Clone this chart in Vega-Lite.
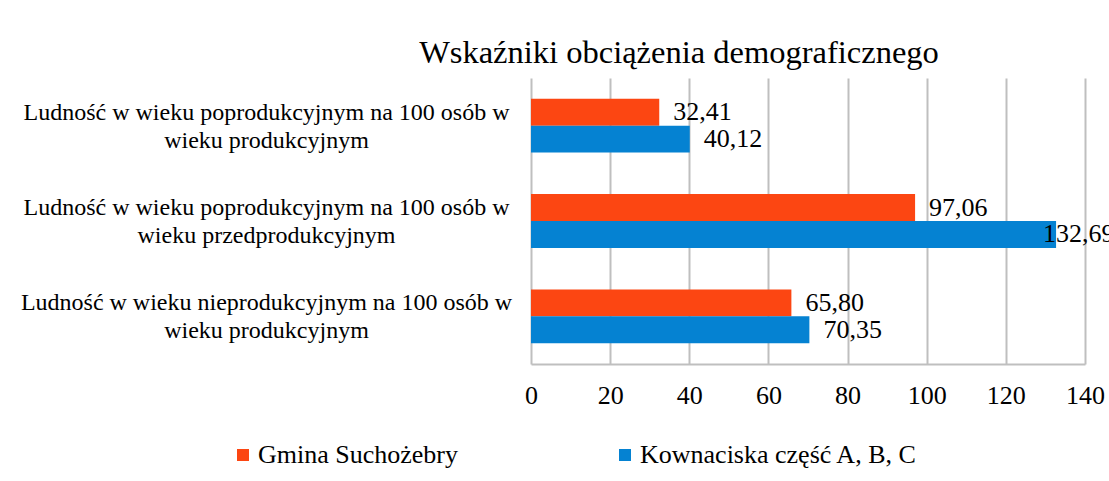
{
  "$schema": "https://vega.github.io/schema/vega-lite/v6.json",
  "autosize": {"type": "none"},
  "padding": {"left": 531, "top": 78, "right": 24, "bottom": 117},
  "width": 554,
  "height": 286,
  "background": "white",
  "title": {
    "text": "Wskaźniki obciążenia demograficznego",
    "font": "Liberation Serif",
    "fontSize": 32.5,
    "fontWeight": "normal",
    "color": "black",
    "anchor": "middle",
    "baseline": "alphabetic",
    "offset": -17,
    "dx": -129
  },
  "data": {
    "values": [
      {"kategoria": "Ludność w wieku poprodukcyjnym na 100 osób w wieku produkcyjnym", "seria": "Gmina Suchożebry", "wartosc": 32.41},
      {"kategoria": "Ludność w wieku poprodukcyjnym na 100 osób w wieku produkcyjnym", "seria": "Kownaciska część A, B, C", "wartosc": 40.12},
      {"kategoria": "Ludność w wieku poprodukcyjnym na 100 osób w wieku przedprodukcyjnym", "seria": "Gmina Suchożebry", "wartosc": 97.06},
      {"kategoria": "Ludność w wieku poprodukcyjnym na 100 osób w wieku przedprodukcyjnym", "seria": "Kownaciska część A, B, C", "wartosc": 132.69},
      {"kategoria": "Ludność w wieku nieprodukcyjnym na 100 osób w wieku produkcyjnym", "seria": "Gmina Suchożebry", "wartosc": 65.80},
      {"kategoria": "Ludność w wieku nieprodukcyjnym na 100 osób w wieku produkcyjnym", "seria": "Kownaciska część A, B, C", "wartosc": 70.35}
    ]
  },
  "encoding": {
    "y": {
      "field": "kategoria",
      "type": "nominal",
      "sort": null,
      "scale": {"paddingInner": 0.435, "paddingOuter": 0.2175},
      "axis": {
        "title": null,
        "domain": false,
        "ticks": false,
        "grid": false,
        "labelAlign": "center",
        "labelBaseline": "middle",
        "labelPadding": 265,
        "labelOffset": -13,
        "labelLimit": 0,
        "labelFont": "Liberation Serif",
        "labelFontSize": 24,
        "labelColor": "black",
        "labelLineHeight": 28,
        "labelExpr": "[slice(datum.label, 0, indexof(datum.label, ' osób w') + 7), slice(datum.label, indexof(datum.label, ' osób w') + 8)]"
      }
    },
    "yOffset": {
      "field": "seria",
      "type": "nominal",
      "sort": ["Gmina Suchożebry", "Kownaciska część A, B, C"],
      "scale": {"paddingInner": 0, "paddingOuter": 0}
    },
    "x": {
      "field": "wartosc",
      "type": "quantitative",
      "scale": {"domain": [0, 140], "nice": false},
      "axis": {
        "title": null,
        "values": [0, 20, 40, 60, 80, 100, 120, 140],
        "grid": true,
        "gridColor": "#BFBFBF",
        "gridWidth": 2,
        "domain": true,
        "domainColor": "#BFBFBF",
        "domainWidth": 2,
        "ticks": false,
        "labelPadding": 18,
        "labelFont": "Liberation Serif",
        "labelFontSize": 26,
        "labelColor": "black",
        "labelFlush": false
      }
    }
  },
  "layer": [
    {
      "mark": {"type": "bar"},
      "encoding": {
        "color": {
          "field": "seria",
          "type": "nominal",
          "scale": {"domain": ["Gmina Suchożebry", "Kownaciska część A, B, C"], "range": ["#FC4612", "#0582D2"]},
          "legend": {
            "title": null,
            "orient": "none",
            "direction": "horizontal",
            "columns": 2,
            "legendX": -301,
            "legendY": 364,
            "padding": 0,
            "columnPadding": 153,
            "symbolType": "square",
            "symbolSize": 144,
            "symbolStrokeWidth": 0,
            "labelOffset": 2,
            "labelFont": "Liberation Serif",
            "labelFontSize": 26,
            "labelColor": "black",
            "labelLimit": 0
          }
        }
      }
    },
    {
      "transform": [{"filter": "datum.wartosc < 120"}],
      "mark": {"type": "text", "align": "left", "baseline": "middle", "dx": 14, "font": "Liberation Serif", "fontSize": 26, "color": "black"},
      "encoding": {"text": {"field": "wartosc", "type": "quantitative", "format": ".2f"}}
    },
    {
      "transform": [{"filter": "datum.wartosc >= 120"}],
      "mark": {"type": "text", "align": "left", "baseline": "middle", "dx": -13, "font": "Liberation Serif", "fontSize": 26, "color": "black"},
      "encoding": {"text": {"field": "wartosc", "type": "quantitative", "format": ".2f"}}
    }
  ],
  "config": {
    "view": {"stroke": null},
    "locale": {
      "number": {"decimal": ",", "thousands": " ", "grouping": [3], "currency": ["", " zł"]}
    }
  }
}
